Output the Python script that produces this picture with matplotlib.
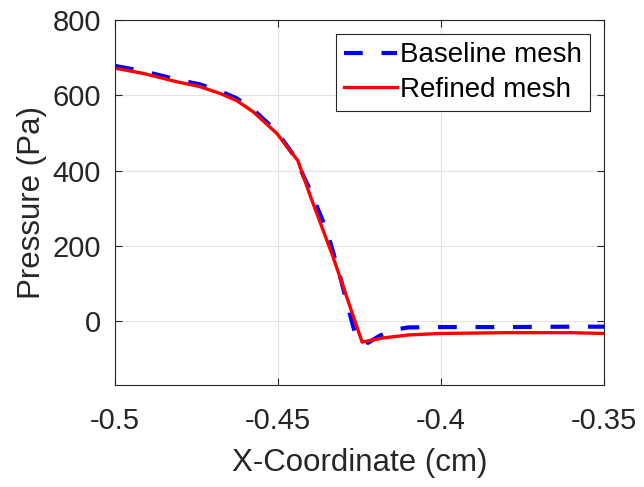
import matplotlib
matplotlib.use("Agg")
import matplotlib.pyplot as plt

plt.rcParams['font.family'] = ['Liberation Sans', 'DejaVu Sans']

# Pressure along the x-coordinate for the two meshes
x_baseline = [-0.5, -0.4913, -0.4811, -0.474, -0.4678, -0.4627, -0.4576, -0.4504,
              -0.445, -0.44, -0.435, -0.431, -0.428, -0.426, -0.4224, -0.419,
              -0.415, -0.41, -0.40, -0.38, -0.36, -0.35]
p_baseline = [678, 664, 642, 629, 611, 592, 562, 504,
              438, 345, 240, 120, 20, -45, -58, -40,
              -24, -17, -16, -16, -15, -15]

x_refined = [-0.5, -0.4913, -0.4811, -0.474, -0.4678, -0.4627, -0.4576, -0.4504,
             -0.4439, -0.44, -0.4331, -0.4242, -0.4178, -0.41, -0.40, -0.38,
             -0.36, -0.35]
p_refined = [672, 658, 636, 623, 605, 586, 556, 499,
             426, 330, 170, -56, -45, -37, -33, -31,
             -31, -33]

x_ticks = [-0.5, -0.45, -0.4, -0.35]
x_tick_labels = ['-0.5', '-0.45', '-0.4', '-0.35']
y_ticks = [0, 200, 400, 600, 800]

fig = plt.figure(figsize=(6.44, 4.87), dpi=100)
ax = fig.add_axes([115/644, 1 - 385/487, (604-115)/644, (385-20)/487])

ax.plot(x_baseline, p_baseline, color='#0000ff', lw=3.0, linestyle=(0, (4.5, 4.5)),
        label='Baseline mesh')
ax.plot(x_refined, p_refined, color='#ff0000', lw=2.4, label='Refined mesh')

ax.set_xlim(-0.5, -0.35)
ax.set_ylim(-170, 800)
ax.set_xticks(x_ticks)
ax.set_xticklabels(x_tick_labels)
ax.set_yticks(y_ticks)

ax.grid(True, color='#e3e3e3', lw=0.8)
ax.set_axisbelow(True)
for s in ax.spines.values():
    s.set_color('#262626')
    s.set_linewidth(0.8)
ax.tick_params(direction='in', length=5, width=0.8, colors='#262626',
               labelsize=21, top=True, right=True)
ax.tick_params(axis='x', pad=16)
ax.tick_params(axis='y', pad=10)

ax.set_xlabel('X-Coordinate (cm)', fontsize=22.5, color='#262626', labelpad=9)
ax.set_ylabel('Pressure (Pa)', fontsize=22.5, color='#262626', labelpad=4)

leg = ax.legend(loc='upper right', fontsize=20, frameon=True, fancybox=False,
                edgecolor='#262626', framealpha=1, handlelength=1.9,
                handletextpad=0.1, borderpad=0.3, labelspacing=0.32,
                borderaxespad=0.5)
leg.get_frame().set_linewidth(0.8)

fig.savefig('out.png', dpi=100)
